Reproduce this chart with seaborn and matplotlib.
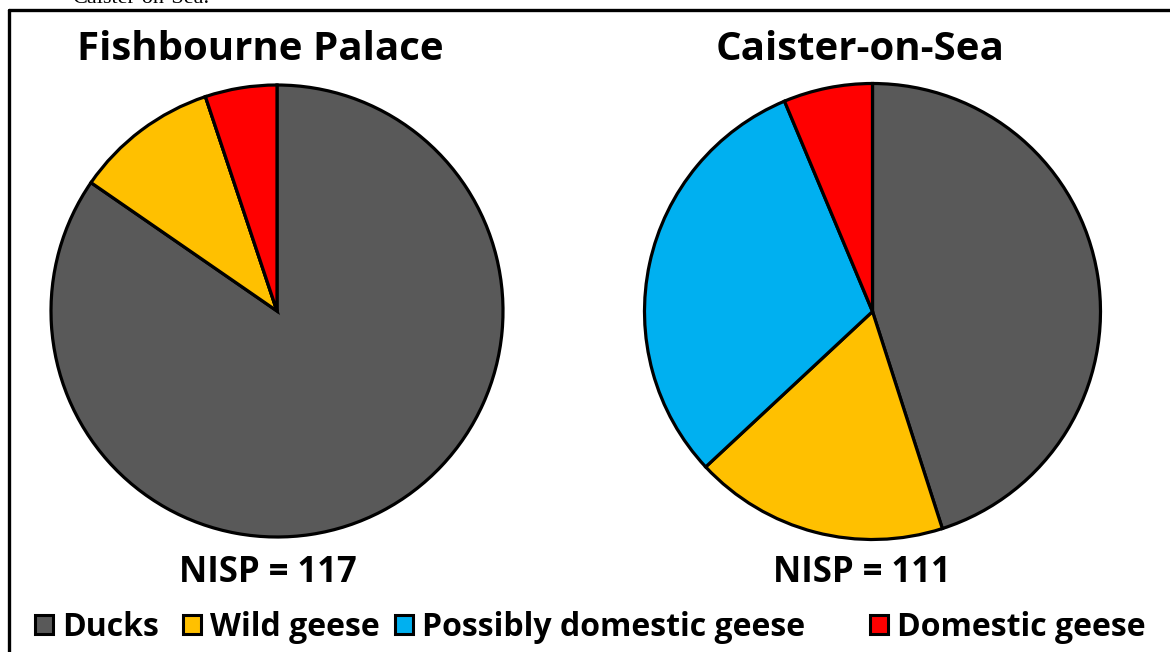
import matplotlib
matplotlib.use("Agg")
import matplotlib.pyplot as plt
from matplotlib.lines import Line2D
from matplotlib.patches import Patch
import seaborn as sns

# Bird bone counts (NISP) by category for each site
categories = ["Ducks", "Wild geese", "Possibly domestic geese", "Domestic geese"]
fishbourne_counts = [99, 12, 0, 6]
caister_counts = [50, 20, 34, 7]
site_names = ["Fishbourne Palace", "Caister-on-Sea"]
colors = ["#595959", "#FFC000", "#00B0F0", "#FF0000"]

sns.set_theme(style="white")
plt.rcParams["font.family"] = ["Open Sans", "DejaVu Sans"]
plt.rcParams["text.color"] = "black"

W, H = 1170, 652
fig = plt.figure(figsize=(W / 100, H / 100), dpi=100)
ax = fig.add_axes([0, 0, 1, 1])

palette = sns.color_palette(colors)

pies = [
    (fishbourne_counts, (277, H - 311), 226),
    (caister_counts, (872.5, H - 311.5), 228),
]
for counts, center, radius in pies:
    ax.pie(counts, colors=palette, startangle=90, counterclock=False,
           center=center, radius=radius, frame=True,
           wedgeprops=dict(edgecolor="black", linewidth=2.3))
ax.set_xlim(0, W)
ax.set_ylim(0, H)
ax.set_aspect("equal")
ax.axis("off")

# Site titles and sample sizes
title_x = [260, 860]
nisp_x = [268, 862]
for name, counts, tx, nx in zip(site_names, [fishbourne_counts, caister_counts], title_x, nisp_x):
    ax.text(tx, H - 50, name, ha="center", va="center", fontsize=29,
            fontweight="bold", color="black")
    ax.text(nx, H - 573, f"NISP = {sum(counts)}", ha="center", va="center",
            fontsize=25, fontweight="bold", color="black")

# Caption line from the preceding text, cut by the page edge
fig.text(72 / W, 1 - 3 / H, "Caister-on-Sea.", family="Liberation Serif",
         fontsize=16, ha="left", va="baseline", color="black")

# Outer frame (continues past right and bottom edges)
fig.add_artist(Line2D([9 / W, 1.01], [1 - 10 / H, 1 - 10 / H],
                      transform=fig.transFigure, color="black", linewidth=2.4))
fig.add_artist(Line2D([9 / W, 9 / W], [1 - 10 / H, -0.01],
                      transform=fig.transFigure, color="black", linewidth=2.4))

# Legend: one entry per category, spread along the bottom row
entry_x = [35, 183, 395, 870]
for cat, col, x0 in zip(categories, palette, entry_x):
    handle = Patch(facecolor=col, edgecolor="black", linewidth=2.2)
    leg = fig.legend([handle], [cat], loc="center left",
                     bbox_to_anchor=(x0 / W, 1 - 627 / H), frameon=False,
                     borderpad=0, borderaxespad=0, handlelength=0.55,
                     handleheight=0.55, handletextpad=0.3, labelcolor="black",
                     prop=dict(family=["Open Sans", "DejaVu Sans"],
                               weight="bold", size=23))

fig.savefig("out.png", dpi=100, facecolor="white")
